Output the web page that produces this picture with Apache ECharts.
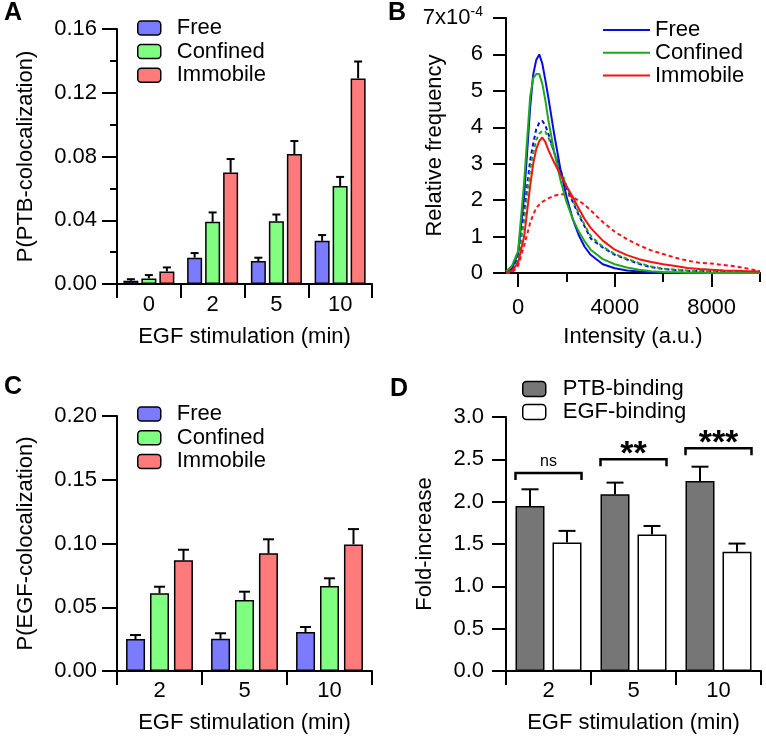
<!DOCTYPE html>
<html><head><meta charset="utf-8">
<script src="https://cdn.jsdelivr.net/npm/echarts@6/dist/echarts.min.js"></script>
<style>
html,body{margin:0;padding:0;background:#fff;}
#wrap{position:relative;width:766px;height:739px;overflow:hidden;}
.p{position:absolute;}
</style></head><body>
<div id="wrap">
<div id="pa" class="p" style="left:0;top:0;width:383px;height:370px"></div>
<div id="pb" class="p" style="left:383px;top:0;width:383px;height:370px"></div>
<div id="pc" class="p" style="left:0;top:345px;width:383px;height:394px"></div>
<div id="pd" class="p" style="left:383px;top:345px;width:383px;height:394px"></div>
</div>
<script>
// ---------- Panel A data ----------
const aCategories = ['0', '2', '5', '10'];
const aFree = [0.002, 0.0165, 0.0144, 0.0271];
const aFreeErr = [0.001, 0.0029, 0.0021, 0.0036];
const aConfined = [0.0035, 0.039, 0.0394, 0.0615];
const aConfinedErr = [0.0021, 0.0059, 0.0042, 0.0057];
const aImmobile = [0.0079, 0.0699, 0.0816, 0.129];
const aImmobileErr = [0.0025, 0.0085, 0.0081, 0.0106];

// ---------- Panel B data (relative frequency, x10^-4) ----------
const intensity = [-500, -250, 0, 250, 500, 625, 750, 875, 1000, 1125, 1250, 1500, 1750, 2000, 2250, 2500, 2750, 3000, 3500, 4000, 4500, 5000, 5500, 6000, 6500, 7000, 7500, 8000, 8500, 9000, 9500, 10000];
const freeSolid = [0.03, 0.12, 0.55, 2.1, 4.55, 5.45, 5.85, 6.0, 5.75, 5.3, 4.82, 3.78, 2.85, 2.1, 1.5, 1.05, 0.72, 0.5, 0.24, 0.13, 0.07, 0.04, 0.02, 0.01, 0.005, 0, 0, 0, 0, 0, 0, 0];
const confinedSolid = [0.04, 0.2, 0.6, 2.5, 4.85, 5.35, 5.46, 5.46, 5.2, 4.75, 4.2, 3.3, 2.55, 1.95, 1.5, 1.15, 0.87, 0.64, 0.38, 0.24, 0.15, 0.09, 0.05, 0.03, 0.02, 0.01, 0.005, 0, 0, 0, 0, 0];
const immobileSolid = [0.02, 0.06, 0.28, 1.0, 2.4, 3.0, 3.4, 3.62, 3.72, 3.6, 3.38, 3.02, 2.7, 2.38, 2.1, 1.78, 1.48, 1.24, 0.89, 0.64, 0.49, 0.38, 0.3, 0.24, 0.19, 0.14, 0.11, 0.09, 0.07, 0.06, 0.05, 0.04];
const freeDotted = [0.01, 0.06, 0.4, 1.65, 3.1, 3.55, 3.95, 4.12, 4.18, 4.05, 3.82, 3.3, 2.8, 2.35, 1.97, 1.6, 1.28, 0.95, 0.7, 0.5, 0.37, 0.25, 0.16, 0.11, 0.08, 0.06, 0.05, 0.04, 0.03, 0.02, 0.01, 0.01];
const confinedDotted = [0.01, 0.05, 0.35, 1.45, 2.85, 3.3, 3.65, 3.82, 3.9, 3.88, 3.72, 3.3, 2.85, 2.4, 2.02, 1.65, 1.32, 1.02, 0.72, 0.52, 0.39, 0.27, 0.18, 0.12, 0.09, 0.07, 0.05, 0.04, 0.03, 0.02, 0.01, 0.01];
const immobileDotted = [0, 0.01, 0.2, 0.75, 1.38, 1.6, 1.78, 1.88, 1.95, 2.0, 2.05, 2.12, 2.16, 2.15, 2.09, 1.99, 1.87, 1.72, 1.4, 1.13, 0.93, 0.76, 0.62, 0.52, 0.42, 0.34, 0.28, 0.26, 0.22, 0.18, 0.12, 0.05];
const bMajorTicks = [0, 4000, 8000];
const bMinorTicks = [2000, 6000, 10000];

// ---------- Panel C data ----------
const cCategories = ['2', '5', '10'];
const cFree = [0.0251, 0.0253, 0.0306];
const cFreeErr = [0.0031, 0.0043, 0.0039];
const cConfined = [0.0609, 0.0557, 0.0667];
const cConfinedErr = [0.0052, 0.0065, 0.006];
const cImmobile = [0.0868, 0.0923, 0.0993];
const cImmobileErr = [0.0083, 0.011, 0.012];

// ---------- Panel D data ----------
const dCategories = ['2', '5', '10'];
const dPTB = [1.949, 2.087, 2.244];
const dPTBErr = [0.197, 0.138, 0.169];
const dEGF = [1.517, 1.612, 1.407];
const dEGFErr = [0.138, 0.101, 0.098];
const dSigLevel = [2.34, 2.50, 2.63];
const dSigText = ['ns', '**', '***'];

// ---------- styling ----------
const FONT = "'Liberation Sans', Arial, Helvetica, sans-serif";
const BLACK = '#000';
const axisLineStyle = {color: BLACK, width: 2};
const txt = {fontFamily: FONT, fontSize: 22, color: BLACK};

function panelLabel(letter, left, top) {
  return {type: 'text', left: left, top: top,
    style: {text: letter, font: 'bold 25px ' + FONT, fill: BLACK}};
}

function errSeries(vals, errs, idx, n, bw, gap, cap) {
  return {
    type: 'custom', z: 5, silent: true,
    data: vals.map((v, i) => [i, v, errs[i]]),
    encode: {x: 0, y: 1},
    renderItem: function (params, api) {
      const c = api.value(0), v = api.value(1), e = api.value(2);
      const p0 = api.coord([c, v]);
      const p1 = api.coord([c, v + e]);
      const off = (idx - (n - 1) / 2) * (bw + gap);
      const x = p0[0] + off;
      return {type: 'group', children: [
        {type: 'line', shape: {x1: x, y1: p0[1], x2: x, y2: p1[1]}, style: {stroke: BLACK, lineWidth: 2}},
        {type: 'line', shape: {x1: x - cap / 2, y1: p1[1], x2: x + cap / 2, y2: p1[1]}, style: {stroke: BLACK, lineWidth: 2}}
      ]};
    }
  };
}

function barSeries(name, vals, color, bw, gapPct) {
  return {type: 'bar', name: name, data: vals, barWidth: bw, barGap: gapPct,
    itemStyle: {color: color, borderColor: BLACK, borderWidth: 1.5}, z: 3};
}

function catAxis(cats, marginLbl, nameGap) {
  return {type: 'category', data: cats,
    axisLine: {show: true, lineStyle: axisLineStyle},
    axisTick: {show: true, length: 14, lineStyle: axisLineStyle},
    axisLabel: Object.assign({margin: marginLbl}, txt),
    name: 'EGF stimulation (min)', nameLocation: 'middle', nameGap: nameGap,
    nameMoveOverlap: false, nameTextStyle: txt};
}

const legendBars = (left, top, data, ih, gap, pad) => ({
  orient: 'vertical', left: left, top: top, padding: 0, selectedMode: false,
  itemWidth: 23, itemHeight: ih, itemGap: gap,
  itemStyle: {borderColor: BLACK, borderWidth: 1.5},
  textStyle: Object.assign({lineHeight: 22, padding: [0, 0, 0, pad]}, txt),
  data: data
});

const gridOf = (l, t, w, h) => ({left: l, top: t, width: w, height: h, containLabel: false, outerBoundsMode: 'none'});

const BLUE_BAR = '#7b7bff', GREEN_BAR = '#80ff80', RED_BAR = '#ff7b7b';

// ---------- Panel A ----------
const chartA = echarts.init(document.getElementById('pa'));
chartA.setOption({
  animation: false,
  graphic: [panelLabel('A', 4, 1)],
  grid: gridOf(117, 29, 255, 255),
  legend: legendBars(137, 17, ['Free', 'Confined', 'Immobile'], 14, 1.6, 11),
  xAxis: catAxis(aCategories, 10, 42),
  yAxis: {type: 'value', min: 0, max: 0.16, interval: 0.04,
    axisLine: {show: true, lineStyle: axisLineStyle},
    axisTick: {show: true, length: 15, lineStyle: axisLineStyle},
    minorTick: {show: true, splitNumber: 2, length: 7, lineStyle: axisLineStyle},
    splitLine: {show: false}, minorSplitLine: {show: false},
    axisLabel: Object.assign({margin: 20, formatter: v => v.toFixed(2)}, txt),
    name: 'P(PTB-colocalization)', nameLocation: 'middle', nameGap: 80,
    nameMoveOverlap: false, nameTextStyle: txt},
  series: [
    barSeries('Free', aFree, BLUE_BAR, 15, '20%'),
    barSeries('Confined', aConfined, GREEN_BAR, 15, '20%'),
    barSeries('Immobile', aImmobile, RED_BAR, 15, '20%'),
    errSeries(aFree, aFreeErr, 0, 3, 15, 3, 8),
    errSeries(aConfined, aConfinedErr, 1, 3, 15, 3, 8),
    errSeries(aImmobile, aImmobileErr, 2, 3, 15, 3, 8)
  ]
});

// ---------- Panel B ----------
const BLUE = '#0a0ae6', GREEN = '#1fa81f', RED = '#f01414';
function lineSeries(name, vals, color, dotted) {
  return {type: 'line', name: name, data: intensity.map((x, i) => [x, vals[i]]),
    showSymbol: false, symbol: 'none', smooth: false,
    lineStyle: {color: color, width: 2, type: dotted ? [4, 3] : 'solid'},
    itemStyle: {color: color}, z: dotted ? 2 : 3};
}
const chartB = echarts.init(document.getElementById('pb'));
chartB.setOption({
  animation: false,
  graphic: [panelLabel('B', 5, 1)],
  grid: gridOf(123, 18, 254, 255),
  legend: {orient: 'vertical', left: 220, top: 19, padding: 0, selectedMode: false,
    icon: 'rect', itemWidth: 47, itemHeight: 2, itemGap: 0.8,
    textStyle: Object.assign({lineHeight: 22}, txt),
    data: ['Free', 'Confined', 'Immobile']},
  xAxis: [
    {type: 'value', min: -500, max: 10000,
      axisLine: {show: true, onZero: false, lineStyle: axisLineStyle},
      axisTick: {show: true, length: 14, customValues: bMajorTicks, lineStyle: axisLineStyle},
      axisLabel: Object.assign({margin: 24, customValues: bMajorTicks, formatter: v => String(v)}, txt),
      splitLine: {show: false},
      name: 'Intensity (a.u.)', nameLocation: 'middle', nameGap: 53,
      nameMoveOverlap: false, nameTextStyle: txt},
    {type: 'value', min: -500, max: 10000, position: 'bottom',
      axisLine: {show: false, onZero: false},
      axisTick: {show: true, length: 9, customValues: bMinorTicks, lineStyle: axisLineStyle},
      axisLabel: {show: false}, splitLine: {show: false}}
  ],
  yAxis: {type: 'value', min: 0, max: 7, interval: 1,
    axisLine: {show: true, onZero: false, lineStyle: axisLineStyle},
    axisTick: {show: true, length: 13, lineStyle: axisLineStyle},
    splitLine: {show: false},
    axisLabel: Object.assign({margin: 23,
      formatter: v => v === 7 ? '{m|7x10}{s|-4}' : String(v),
      rich: {m: {fontFamily: FONT, fontSize: 22, color: BLACK},
             s: {fontFamily: FONT, fontSize: 14, color: BLACK, verticalAlign: 'top', padding: [0, 0, 12, 0]}}}, txt),
    name: 'Relative frequency', nameLocation: 'middle', nameGap: 60,
    nameMoveOverlap: false, nameTextStyle: txt},
  series: [
    lineSeries('Free EGF', freeDotted, BLUE, true),
    lineSeries('Confined EGF', confinedDotted, GREEN, true),
    lineSeries('Immobile EGF', immobileDotted, RED, true),
    lineSeries('Free', freeSolid, BLUE, false),
    lineSeries('Confined', confinedSolid, GREEN, false),
    lineSeries('Immobile', immobileSolid, RED, false)
  ]
});

// ---------- Panel C ----------
const chartC = echarts.init(document.getElementById('pc'));
chartC.setOption({
  animation: false,
  graphic: [panelLabel('C', 4, 30)],
  grid: gridOf(117, 71, 255, 255),
  legend: legendBars(137, 58, ['Free', 'Confined', 'Immobile'], 14, 1.7, 11),
  xAxis: catAxis(cCategories, 9, 41),
  yAxis: {type: 'value', min: 0, max: 0.2, interval: 0.05,
    axisLine: {show: true, lineStyle: axisLineStyle},
    axisTick: {show: true, length: 15, lineStyle: axisLineStyle},
    splitLine: {show: false},
    axisLabel: Object.assign({margin: 20, formatter: v => v.toFixed(2)}, txt),
    name: 'P(EGF-colocalization)', nameLocation: 'middle', nameGap: 80,
    nameMoveOverlap: false, nameTextStyle: txt},
  series: [
    barSeries('Free', cFree, BLUE_BAR, 19, '26%'),
    barSeries('Confined', cConfined, GREEN_BAR, 19, '26%'),
    barSeries('Immobile', cImmobile, RED_BAR, 19, '26%'),
    errSeries(cFree, cFreeErr, 0, 3, 19, 5, 11),
    errSeries(cConfined, cConfinedErr, 1, 3, 19, 5, 11),
    errSeries(cImmobile, cImmobileErr, 2, 3, 19, 5, 11)
  ]
});

// ---------- Panel D ----------
const chartD = echarts.init(document.getElementById('pd'));
const D_BW = 29, D_GAP = 8;
chartD.setOption({
  animation: false,
  graphic: [panelLabel('D', 7, 32)],
  grid: gridOf(123, 72, 255, 254),
  legend: legendBars(139, 33, ['PTB-binding', 'EGF-binding'], 15, 1, 12),
  xAxis: catAxis(dCategories, 9, 41),
  yAxis: {type: 'value', min: 0, max: 3, interval: 0.5,
    axisLine: {show: true, lineStyle: axisLineStyle},
    axisTick: {show: true, length: 14, lineStyle: axisLineStyle},
    splitLine: {show: false},
    axisLabel: Object.assign({margin: 22, formatter: v => v.toFixed(1)}, txt),
    name: 'Fold-increase', nameLocation: 'middle', nameGap: 70,
    nameMoveOverlap: false, nameTextStyle: txt},
  series: [
    barSeries('PTB-binding', dPTB, '#767676', D_BW, '27.6%'),
    barSeries('EGF-binding', dEGF, '#ffffff', D_BW, '27.6%'),
    errSeries(dPTB, dPTBErr, 0, 2, D_BW, D_GAP, 17),
    errSeries(dEGF, dEGFErr, 1, 2, D_BW, D_GAP, 17),
    {type: 'custom', silent: true, z: 6,
      data: dSigLevel.map((v, i) => [i, v]),
      encode: {x: 0, y: 1},
      renderItem: function (params, api) {
        const p = api.coord([api.value(0), api.value(1)]);
        const half = D_BW + D_GAP / 2;
        const l = p[0] - half, r = p[0] + half, y = p[1];
        const label = dSigText[params.dataIndex];
        const isNs = label === 'ns';
        return {type: 'group', children: [
          {type: 'polyline', shape: {points: [[l, y + 7], [l, y], [r, y], [r, y + 7]]},
            style: {stroke: BLACK, lineWidth: 2.5, fill: null}},
          {type: 'text', x: p[0], y: isNs ? y - 3 : y + 12,
            style: {text: label, fill: BLACK, align: 'center', verticalAlign: 'bottom',
              font: isNs ? ('16px ' + FONT) : ('bold 34px ' + FONT)}}
        ]};
      }}
  ]
});
</script>
</body></html>
